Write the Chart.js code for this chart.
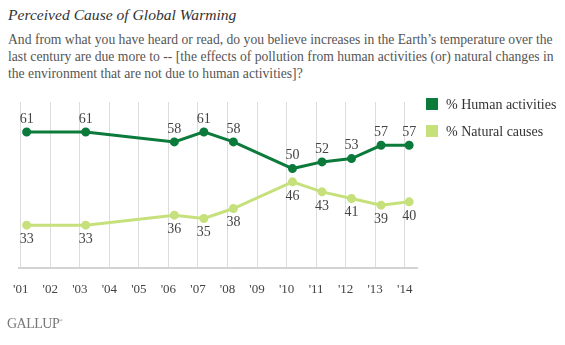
<!DOCTYPE html>
<html>
<head>
<meta charset="utf-8">
<script src="https://cdn.jsdelivr.net/npm/chart.js@4.4.1/dist/chart.umd.min.js"></script>
<style>
  body { margin: 0; background: #fff; width: 565px; height: 345px; overflow: hidden; position: relative; font-family: "Liberation Serif", serif; }
  #title { position: absolute; left: 8px; top: 6px; font-size: 15.6px; font-style: italic; color: #333; }
  #sub { position: absolute; left: 8px; top: 31px; font-size: 13.65px; line-height: 17px; color: #555; white-space: nowrap; }
  #wrap { position: absolute; left: 0; top: 0; width: 565px; height: 345px; }
  .leg { position: absolute; left: 426px; font-size: 14px; color: #333; }
  .leg span { display: inline-block; width: 12px; height: 12px; margin-right: 8px; vertical-align: -1px; }
  #gallup { position: absolute; left: 7px; top: 316px; font-size: 14px; color: #777; letter-spacing: -0.5px; }
  #gallup sup { font-size: 5px; }
</style>
</head>
<body>
<div id="title">Perceived Cause of Global Warming</div>
<div id="sub">And from what you have heard or read, do you believe increases in the Earth’s temperature over the<br>last century are due more to -- [the effects of pollution from human activities (or) natural changes in<br>the environment that are not due to human activities]?</div>
<div id="wrap"><canvas id="chart"></canvas></div>
<div class="leg" style="top:97px"><span style="background:#0b7a3b"></span>% Human activities</div>
<div class="leg" style="top:124px"><span style="background:#c6e17c"></span>% Natural causes</div>
<div id="gallup">GALLUP<sup>®</sup></div>
<script>
// survey dates (fraction of year), values in %
const surveyDates = [2001.2, 2003.2, 2006.2, 2007.2, 2008.2, 2010.2, 2011.2, 2012.2, 2013.2, 2014.15];
const human = [61, 61, 58, 61, 58, 50, 52, 53, 57, 57];
const natural = [33, 33, 36, 35, 38, 46, 43, 41, 39, 40];
const years = [2001, 2002, 2003, 2004, 2005, 2006, 2007, 2008, 2009, 2010, 2011, 2012, 2013, 2014];

const darkGreen = '#0b7a3b';
const lightGreen = '#c6e17c';

function pts(vals) {
  return surveyDates.map((d, i) => ({ x: d, y: vals[i] }));
}

const valueLabels = {
  id: 'valueLabels',
  afterDatasetsDraw(chart) {
    const ctx = chart.ctx;
    ctx.save();
    ctx.font = '14px "Liberation Serif", serif';
    ctx.fillStyle = '#444';
    ctx.textAlign = 'center';
    ctx.textBaseline = 'middle';
    chart.data.datasets.forEach((ds, di) => {
      const meta = chart.getDatasetMeta(di);
      meta.data.forEach((p, i) => {
        const dy = di === 0 ? -13 : 14;
        ctx.fillText(ds.data[i].y, p.x, p.y + dy);
      });
    });
    ctx.restore();
  }
};

const ctx = document.getElementById('chart').getContext('2d');
new Chart(ctx, {
  type: 'line',
  data: {
    datasets: [
      { label: '% Human activities', data: pts(human), borderColor: darkGreen, backgroundColor: darkGreen,
        borderWidth: 3, pointRadius: 3, tension: 0 },
      { label: '% Natural causes', data: pts(natural), borderColor: lightGreen, backgroundColor: lightGreen,
        borderWidth: 3, pointRadius: 3, tension: 0 }
    ]
  },
  options: {
    responsive: true,
    maintainAspectRatio: false,
    animation: false,
    layout: { padding: { left: 13, right: 147, top: 102, bottom: 35 } },
    plugins: { legend: { display: false }, tooltip: { enabled: false } },
    scales: {
      x: {
        type: 'linear',
        min: 2000.93,
        max: 2014.45,
        afterBuildTicks: s => { s.ticks = years.map(v => ({ value: v })); },
        grid: { color: '#dcdcdc', drawTicks: false },
        border: { color: '#d3d3d3', width: 2 },
        ticks: {
          padding: 13,
          color: '#444',
          font: { family: '"Liberation Serif", serif', size: 13 },
          callback: v => "'" + String(v).slice(2)
        }
      },
      y: { display: false, min: 20, max: 70 }
    }
  },
  plugins: [valueLabels]
});
</script>
</body>
</html>
